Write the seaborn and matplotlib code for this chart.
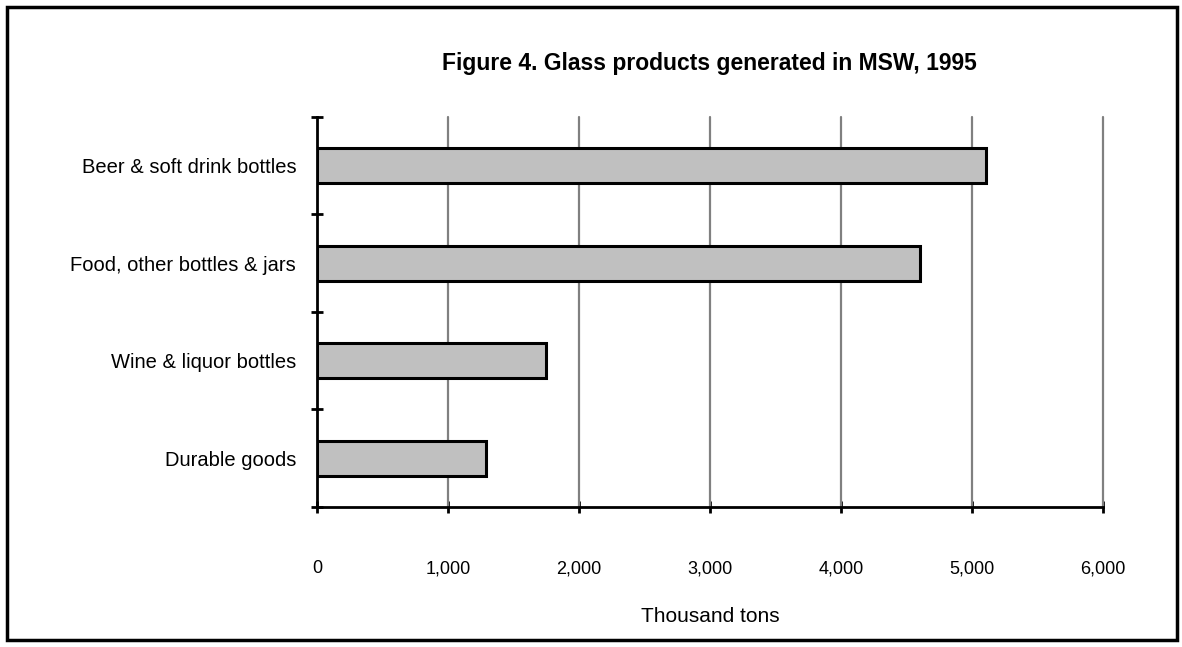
import numpy as np
import pandas as pd
import seaborn as sns
import matplotlib.pyplot as plt
from matplotlib.patches import Rectangle

# chart data
categories = ["Beer & soft drink bottles", "Food, other bottles & jars",
              "Wine & liquor bottles", "Durable goods"]
values = [5110, 4600, 1750, 1290]
x_ticks = [0, 1000, 2000, 3000, 4000, 5000, 6000]
x_tick_labels = ["0", "1,000", "2,000", "3,000", "4,000", "5,000", "6,000"]

sns.set_style("white")
plt.rcParams['font.family'] = ['Liberation Sans', 'DejaVu Sans']
plt.rcParams['text.color'] = 'black'
plt.rcParams['xtick.color'] = 'black'
plt.rcParams['ytick.color'] = 'black'
plt.rcParams['axes.labelcolor'] = 'black'

fig = plt.figure(figsize=(11.82, 6.47), dpi=100)
ax = fig.add_axes([0.2682, 0.2164, 0.665, 0.6028])

df = pd.DataFrame({"category": categories, "value": values})
sns.barplot(data=df, x="value", y="category", orient="h", color="#c0c0c0",
            edgecolor="black", linewidth=2.2, width=0.36, saturation=1, ax=ax, zorder=3)

ax.set_xlim(0, 6000)
ax.set_ylim(len(categories) - 0.5, -0.5)

# vertical gray gridlines
for xv in x_ticks[1:]:
    ax.axvline(xv, color="#808080", linewidth=1.6, zorder=1, clip_on=False)

ax.set_xticks(x_ticks)
ax.set_xticklabels(x_tick_labels, fontsize=13)
ax.tick_params(axis="x", bottom=True, direction="inout", length=9, width=2, pad=34)

# category boundaries as major ticks, labels at the centres
ax.set_yticks(np.arange(-0.5, len(categories), 1.0))
ax.set_yticklabels([])
ax.set_yticks(np.arange(len(categories)), minor=True)
ax.set_yticklabels(categories, minor=True, fontsize=14.5)
ax.tick_params(axis="y", which="major", left=True, direction="inout", length=9, width=2)
ax.tick_params(axis="y", which="minor", left=True, length=0, pad=15)

for side in ["top", "right"]:
    ax.spines[side].set_visible(False)
for side in ["left", "bottom"]:
    ax.spines[side].set_linewidth(2)
    ax.spines[side].set_color("black")
    ax.spines[side].set_zorder(4)

ax.set_ylabel("")
ax.set_xlabel("Thousand tons", fontsize=15, labelpad=21)

fig.text(0.6, 0.902, "Figure 4. Glass products generated in MSW, 1995",
         ha="center", va="center", fontsize=16.5, fontweight="bold")

# outer frame
fig.patches.append(Rectangle((7 / 1182, 7 / 647), 1170 / 1182, 633 / 647,
                             transform=fig.transFigure, fill=False,
                             edgecolor="black", linewidth=2.5))

plt.savefig("out.png", dpi=100)
